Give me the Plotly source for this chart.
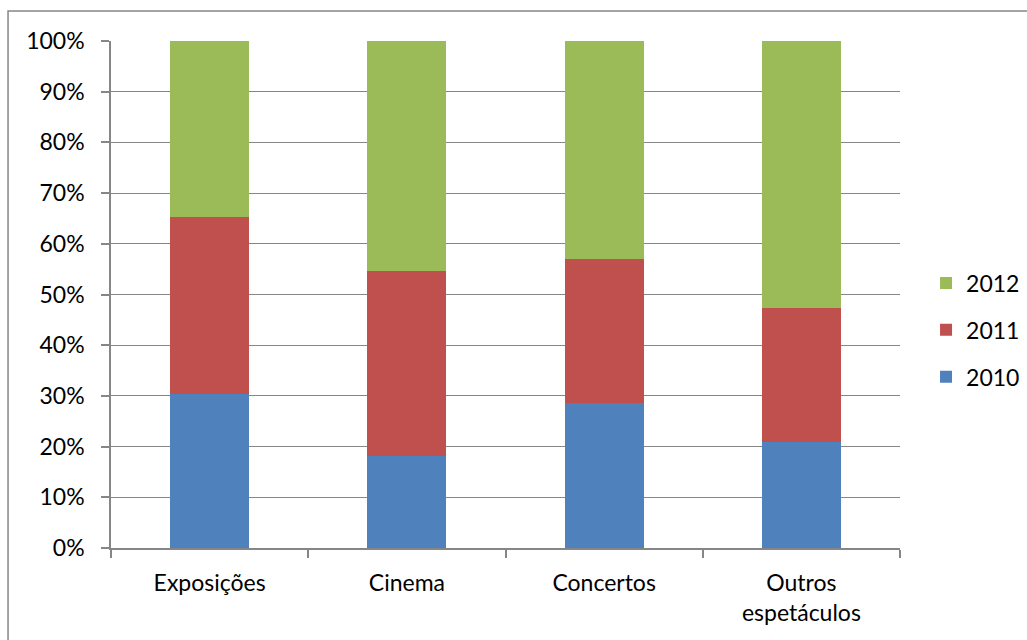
import plotly.graph_objects as go

categories = ["Exposições", "Cinema", "Concertos", "Outros<br>espetáculos"]
years = ["2010", "2011", "2012"]
share_2010 = [30.4, 18.2, 28.6, 20.9]
share_2011 = [34.8, 36.4, 28.5, 26.4]
share_2012 = [34.8, 45.4, 42.9, 52.7]
colors = ["#4F81BD", "#C0504D", "#9BBB59"]

FONT = "Lato"
xpos = [i + 0.5 for i in range(len(categories))]

fig = go.Figure()
series = [share_2010, share_2011, share_2012]
for i, (name, vals, col) in enumerate(zip(years, series, colors)):
    fig.add_trace(go.Bar(
        x=xpos, y=vals, name=name, width=0.40,
        marker=dict(color=col, line=dict(width=0)),
        legendgroup=name,
        legendrank=len(years) - i,  # newest year listed first
    ))

fig.update_layout(
    width=1027, height=640,
    barmode="stack",
    plot_bgcolor="white", paper_bgcolor="white",
    margin=dict(l=111, r=127, t=41, b=92, autoexpand=False),
    font=dict(family=FONT, size=23, color="#000000"),
    showlegend=True,
    legend=dict(
        x=1.033, y=0.43, xanchor="left", yanchor="middle",
        traceorder="grouped", tracegroupgap=14,
        font=dict(family=FONT, size=23),
        itemwidth=30,
    ),
    xaxis=dict(
        range=[0, 4], tickvals=xpos, ticktext=categories,
        ticks="", showgrid=False, zeroline=False,
        showline=True, linecolor="#868686", linewidth=1.5,
        ticklabelstandoff=14,
        minor=dict(tickvals=[0, 1, 2, 3, 4], ticks="outside", ticklen=8,
                   tickcolor="#868686", tickwidth=1.5, showgrid=False),
    ),
    yaxis=dict(
        range=[0, 100], dtick=10, ticksuffix="%",
        showgrid=True, gridcolor="#868686", gridwidth=1.2,
        zeroline=False, showline=True, linecolor="#868686", linewidth=1.5,
        ticks="outside", ticklen=8, tickcolor="#868686", tickwidth=1.5,
        ticklabelstandoff=12,
    ),
    shapes=[dict(
        type="rect", xref="paper", yref="paper",
        x0=-0.1305, x1=3, y0=-3, y1=1.059,
        line=dict(color="#868686", width=1.5), layer="below",
    )],
)

fig.write_html("out.html")
